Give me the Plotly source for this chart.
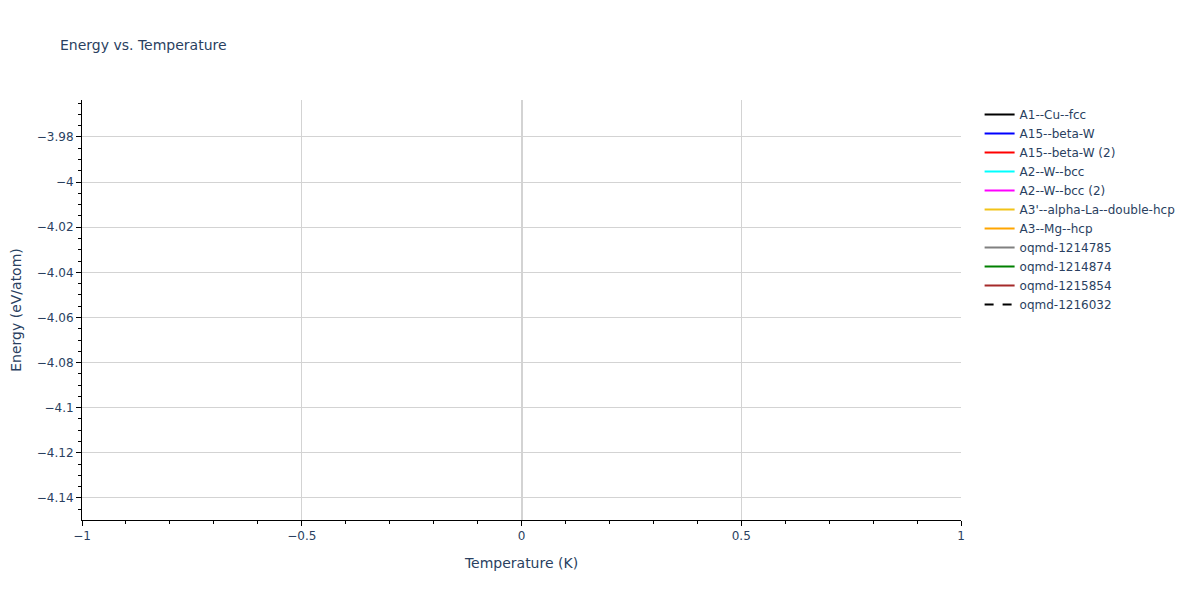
import plotly.graph_objects as go

# each structure only has a value at T = 0 K, so the lines themselves are empty
structures = [
    "A1--Cu--fcc", "A15--beta-W", "A15--beta-W (2)", "A2--W--bcc",
    "A2--W--bcc (2)", "A3'--alpha-La--double-hcp", "A3--Mg--hcp",
    "oqmd-1214785", "oqmd-1214874", "oqmd-1215854", "oqmd-1216032",
]
temperatures = [0]
energies = [
    [-4.1498], [-3.9636], [-3.9652], [-4.0120], [-4.0131], [-4.1402],
    [-4.1421], [-4.0550], [-4.0803], [-4.0302], [-4.0911],
]
colors = ["black", "blue", "red", "cyan", "magenta", "#f2c318", "orange",
          "gray", "green", "brown", "black"]
dashes = ["solid"] * 10 + ["dash"]

fig = go.Figure()
for name, e, c, d in zip(structures, energies, colors, dashes):
    fig.add_trace(go.Scatter(
        x=temperatures, y=e, mode="lines", name=name,
        line=dict(color=c, dash=d, width=2),
    ))

axis_style = dict(
    showline=True, linecolor="black", linewidth=1,
    ticks="outside", ticklen=5, tickcolor="black",
    showgrid=True, gridcolor="lightgray",
    zeroline=True, zerolinecolor="lightgray", zerolinewidth=2,
    minor=dict(ticks="outside", ticklen=3, tickcolor="black", showgrid=False),
    automargin=False,
)

# page body has an 8px margin, so size the figure to fit inside the window
fig.update_layout(
    width=1184, height=584,
    margin=dict(l=74, r=230, t=92, b=72),
    title=dict(text="Energy vs. Temperature", x=0.0439, xanchor="left",
               y=1 - 37 / 584, yanchor="middle", font=dict(size=14)),
    font=dict(family="Verdana, DejaVu Sans, sans-serif"),
    plot_bgcolor="white", paper_bgcolor="white",
    xaxis=dict(title="Temperature (K)", range=[-1, 1], dtick=0.5,
               **axis_style),
    yaxis=dict(title="Energy (eV/atom)", range=[-4.1498, -3.9636],
               dtick=0.02, **axis_style),
)
fig.update_xaxes(minor_dtick=0.1)
fig.update_yaxes(minor_dtick=0.005)

fig.write_html("out.html")
